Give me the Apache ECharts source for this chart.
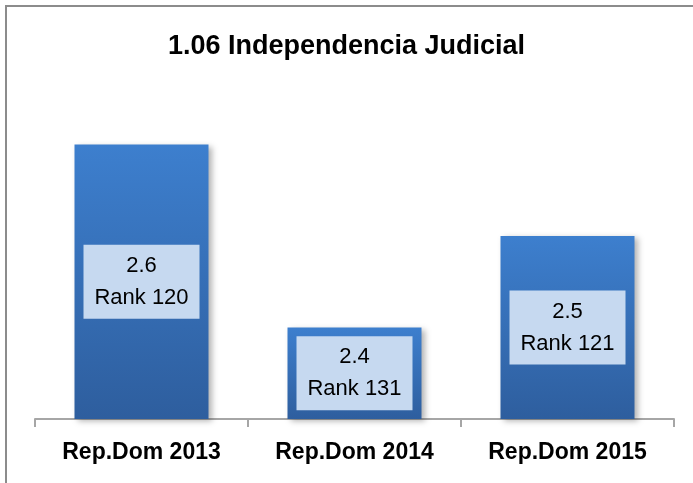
<!DOCTYPE html>
<html>
<head>
<meta charset="utf-8">
<script src="https://cdn.jsdelivr.net/npm/echarts@6/dist/echarts.min.js"></script>
<style>
  html, body { margin: 0; padding: 0; background: #fff; }
  #chart { width: 693px; height: 483px; }
</style>
</head>
<body>
<div id="chart"></div>
<script>
const categories = ['Rep.Dom 2013', 'Rep.Dom 2014', 'Rep.Dom 2015']
const scores = [2.6, 2.4, 2.5]
const ranks = [120, 131, 121]

const chart = echarts.init(document.getElementById('chart'))

chart.setOption({
  backgroundColor: '#fff',
  animation: false,
  title: {
    text: '1.06 Independencia Judicial',
    left: 'center',
    top: 28,
    textStyle: {
      fontFamily: 'Liberation Sans',
      fontWeight: 'bold',
      fontSize: 27,
      color: '#000'
    }
  },
  // marco gris (solo se ven arriba e izquierda)
  graphic: [
    {
      type: 'rect',
      shape: { x: 6, y: 6, width: 800, height: 600 },
      style: { fill: 'none', stroke: '#8c8c8c', lineWidth: 2 },
      silent: true
    }
  ],
  grid: {
    left: 35,
    right: 19,
    top: 53,
    bottom: 64
  },
  xAxis: {
    type: 'category',
    data: categories,
    axisLine: { lineStyle: { color: '#a6a6a6', width: 2 } },
    axisTick: {
      show: true,
      interval: 0,
      alignWithLabel: false,
      length: 8,
      lineStyle: { color: '#a6a6a6', width: 2 }
    },
    axisLabel: {
      margin: 22,
      fontFamily: 'Liberation Sans',
      fontWeight: 'bold',
      fontSize: 23,
      color: '#000'
    }
  },
  yAxis: {
    type: 'value',
    min: 2.3,
    max: 2.7,
    show: false,
    splitLine: { show: false }
  },
  series: [
    {
      type: 'bar',
      data: scores,
      barWidth: 134,
      itemStyle: {
        color: {
          type: 'linear',
          x: 0, y: 0, x2: 0, y2: 1,
          colorStops: [
            { offset: 0, color: '#3d7fce' },
            { offset: 1, color: '#2e5e9e' }
          ]
        },
        shadowColor: 'rgba(0, 0, 0, 0.3)',
        shadowBlur: 6,
        shadowOffsetX: 3,
        shadowOffsetY: 2
      },
      label: {
        show: true,
        position: 'inside',
        formatter: p => p.value + '\nRank ' + ranks[p.dataIndex],
        width: 116,
        padding: [5, 0],
        align: 'center',
        lineHeight: 32,
        backgroundColor: '#c6d9f0',
        fontFamily: 'Liberation Sans',
        fontSize: 22,
        color: '#000'
      }
    }
  ]
})
</script>
</body>
</html>
